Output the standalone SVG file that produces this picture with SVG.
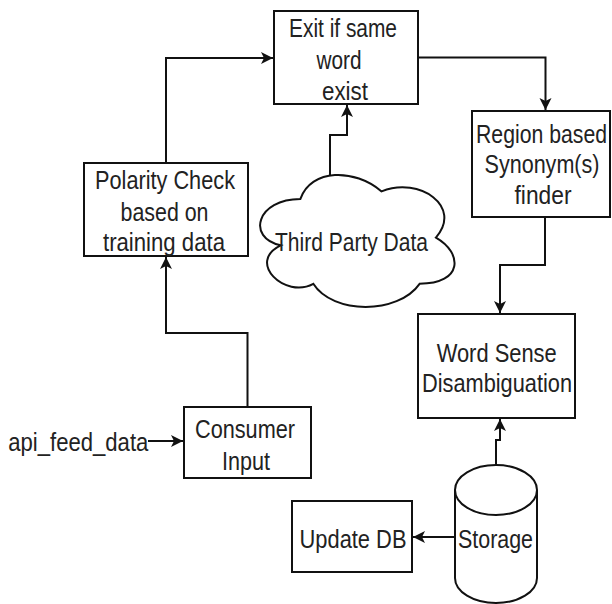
<svg xmlns="http://www.w3.org/2000/svg" width="612" height="604" viewBox="0 0 612 604">
  <style>
    .box { fill: #ffffff; stroke: #111111; stroke-width: 2; }
    .edge { fill: none; stroke: #111111; stroke-width: 2; }
    .lbl { font-family: "Liberation Sans", Arial, sans-serif; font-size: 26px; fill: #222222; text-anchor: middle; }
  </style>
  <defs>
    <marker id="arrow" markerUnits="userSpaceOnUse" markerWidth="13" markerHeight="12" refX="12" refY="6" orient="auto" overflow="visible">
      <path d="M0,0 L12,6 L0,12 L3,6 Z" fill="#111111"/>
    </marker>
  </defs>

  <rect width="612" height="604" fill="#ffffff"/>

  <!-- connectors -->
  <g id="connectors">
    <path class="edge" d="M166,163 V58 H273" marker-end="url(#arrow)"/>
    <path class="edge" d="M418,57.5 H545.5 V110" marker-end="url(#arrow)"/>
    <path class="edge" d="M330,178 V135 H347 V105" marker-end="url(#arrow)"/>
    <path class="edge" d="M545,217 V265 H500 V313" marker-end="url(#arrow)"/>
    <path class="edge" d="M247.5,407 V333 H166 V257" marker-end="url(#arrow)"/>
    <path class="edge" d="M148,441 H183" marker-end="url(#arrow)"/>
    <path class="edge" d="M496,465 V440 H500 V419" marker-end="url(#arrow)"/>
    <path class="edge" d="M455,537 H413" marker-end="url(#arrow)"/>
  </g>

  <!-- nodes -->
  <g id="exit-check">
    <rect class="box" x="274" y="11" width="144" height="93"/>
    <text class="lbl" x="343" y="37" textLength="108" lengthAdjust="spacingAndGlyphs">Exit if same</text>
    <text class="lbl" x="339" y="68.5" textLength="45" lengthAdjust="spacingAndGlyphs">word</text>
    <text class="lbl" x="345" y="100" textLength="46" lengthAdjust="spacingAndGlyphs">exist</text>
  </g>

  <g id="synonym-finder">
    <rect class="box" x="472" y="111" width="138" height="106"/>
    <text class="lbl" x="541.5" y="143" textLength="131" lengthAdjust="spacingAndGlyphs">Region based</text>
    <text class="lbl" x="542" y="173" textLength="115" lengthAdjust="spacingAndGlyphs">Synonym(s)</text>
    <text class="lbl" x="543" y="204" textLength="57" lengthAdjust="spacingAndGlyphs">finder</text>
  </g>

  <g id="polarity-check">
    <rect class="box" x="84" y="163" width="164" height="93"/>
    <text class="lbl" x="165" y="189" textLength="140" lengthAdjust="spacingAndGlyphs">Polarity Check</text>
    <text class="lbl" x="164.5" y="221" textLength="88" lengthAdjust="spacingAndGlyphs">based on</text>
    <text class="lbl" x="164" y="251" textLength="122" lengthAdjust="spacingAndGlyphs">training data</text>
  </g>

  <g id="third-party-data">
    <path class="box" d="M300.3,199.1 C256.9,199.1 246,237.6 280.7,245.3 C246,262.2 285.1,299.2 313.3,283.8 C332.8,314.6 397.9,314.6 419.6,283.8 C463,283.8 463,253 435.9,237.6 C463,206.8 419.6,176 381.6,191.4 C354.5,168.3 311.1,168.3 300.3,199.1 Z"/>
    <text class="lbl" x="351.5" y="251" textLength="153" lengthAdjust="spacingAndGlyphs">Third Party Data</text>
  </g>

  <g id="word-sense">
    <rect class="box" x="418" y="314" width="157" height="104"/>
    <text class="lbl" x="496.7" y="362" textLength="120" lengthAdjust="spacingAndGlyphs">Word Sense</text>
    <text class="lbl" x="497" y="392" textLength="150" lengthAdjust="spacingAndGlyphs">Disambiguation</text>
  </g>

  <g id="consumer-input">
    <rect class="box" x="184" y="407" width="127" height="71"/>
    <text class="lbl" x="245" y="438" textLength="100" lengthAdjust="spacingAndGlyphs">Consumer</text>
    <text class="lbl" x="246" y="470" textLength="48" lengthAdjust="spacingAndGlyphs">Input</text>
  </g>

  <g id="api-feed">
    <text class="lbl" x="78.3" y="451" textLength="140" lengthAdjust="spacingAndGlyphs">api_feed_data</text>
  </g>

  <g id="update-db">
    <rect class="box" x="292" y="501" width="120" height="71"/>
    <text class="lbl" x="353" y="548" textLength="107" lengthAdjust="spacingAndGlyphs">Update DB</text>
  </g>

  <g id="storage">
    <path class="box" d="M455,490 A41,25 0 0 1 537,490 V578 A41,25 0 0 1 455,578 Z"/>
    <path class="edge" d="M455,490 A41,25 0 0 0 537,490"/>
    <text class="lbl" x="495.5" y="548" textLength="75" lengthAdjust="spacingAndGlyphs">Storage</text>
  </g>
</svg>
